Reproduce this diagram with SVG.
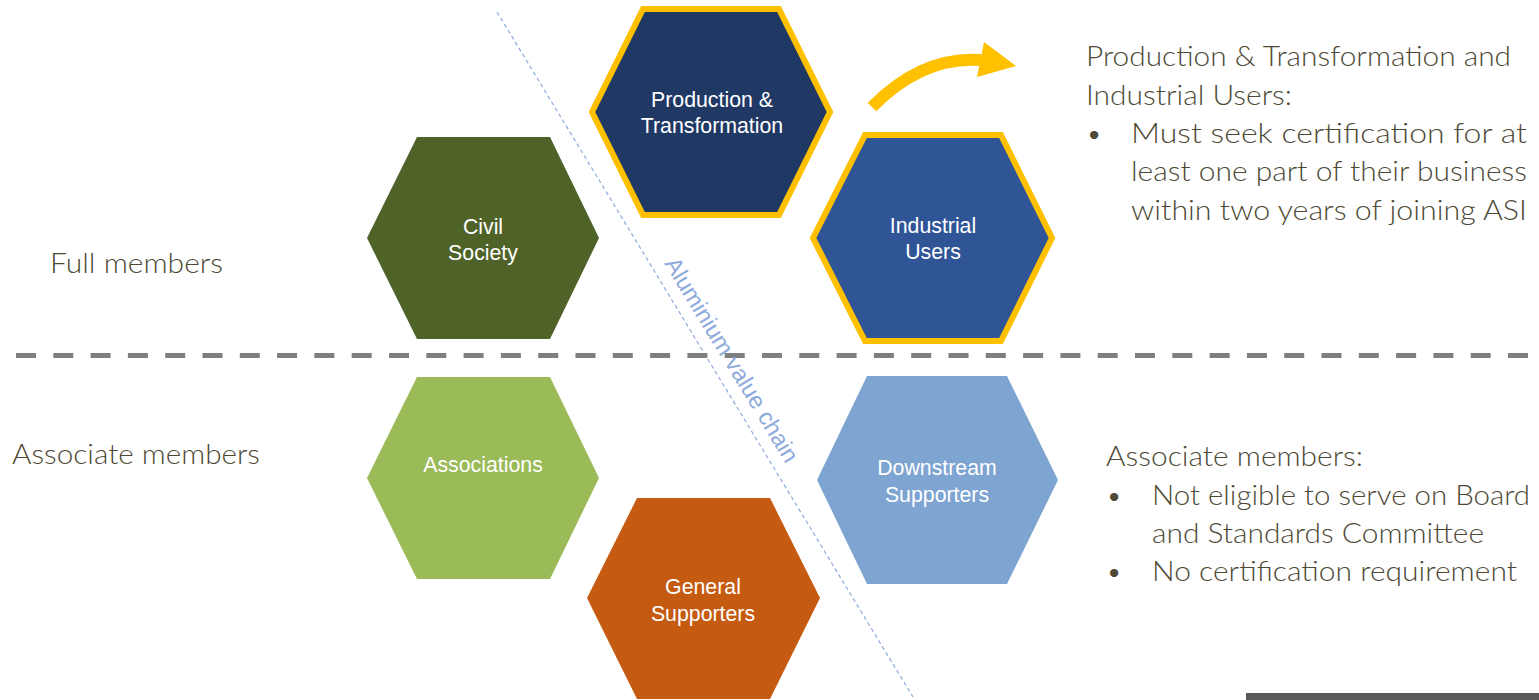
<svg xmlns="http://www.w3.org/2000/svg" width="1539" height="700" viewBox="0 0 1539 700">
<style>
.hl{font-family:"Liberation Sans",Arial,sans-serif;font-size:21.3px;fill:#ffffff;text-anchor:middle}
.bt{font-family:Lato,"Open Sans",sans-serif;font-weight:300;font-size:28px;fill:#4d4935}
.gold{stroke:#ffc000;stroke-width:6;stroke-linejoin:miter}
</style>
<rect width="1539" height="700" fill="#ffffff"/>
<g id="connectors">
<line x1="497" y1="12" x2="913" y2="697" stroke="#8faadc" stroke-width="1.2" stroke-dasharray="4 3"/>
<line x1="16" y1="355.5" x2="1531" y2="355.5" stroke="#7f7f7f" stroke-width="5" stroke-dasharray="20 17.3"/>
<path d="M872,107 Q922,56 981,60" fill="none" stroke="#ffc000" stroke-width="12"/>
<polygon points="984,42 1016,66 977,77" fill="#ffc000"/>
</g>
<g id="chain-label">
<text transform="translate(725,364) rotate(58.7)" text-anchor="middle" style="font-family:'Liberation Sans',Arial,sans-serif;font-size:23.5px;fill:#8faadc">Aluminium value chain</text>
</g>
<g id="production">
<polygon class="gold" points="592,112 643,9 779,9 830,112 779,215 643,215" fill="#203864"/>
<text class="hl" x="712" y="107">Production &amp;</text>
<text class="hl" x="712" y="133">Transformation</text>
</g>
<g id="industrial">
<polygon class="gold" points="813,238 865,135 1001,135 1052,238 1001,341 865,341" fill="#2f5597"/>
<text class="hl" x="933" y="233">Industrial</text>
<text class="hl" x="933" y="259">Users</text>
</g>
<g id="civil">
<polygon points="367,238 417,137 550,137 599,238 550,339 417,339" fill="#4f6228"/>
<text class="hl" x="483" y="234">Civil</text>
<text class="hl" x="483" y="260">Society</text>
</g>
<g id="associations">
<polygon points="367,478 417,377 550,377 599,478 550,579 417,579" fill="#9bbb59"/>
<text class="hl" x="483" y="472">Associations</text>
</g>
<g id="general">
<polygon points="587,598 637,498 770,498 820,598 770,699 637,699" fill="#c55a11"/>
<text class="hl" x="703" y="594">General</text>
<text class="hl" x="703" y="621">Supporters</text>
</g>
<g id="downstream">
<polygon points="817,480 867,376 1007,376 1058,480 1007,584 867,584" fill="#7ea4d1"/>
<text class="hl" x="937" y="475">Downstream</text>
<text class="hl" x="937" y="502">Supporters</text>
</g>
<g id="side-labels">
<text class="bt" x="50" y="273" textLength="173" lengthAdjust="spacingAndGlyphs">Full members</text>
<text class="bt" x="12" y="464" textLength="248" lengthAdjust="spacingAndGlyphs">Associate members</text>
</g>
<g id="full-notes">
<text class="bt" x="1086" y="66" textLength="425" lengthAdjust="spacingAndGlyphs">Production &amp; Transformation and</text>
<text class="bt" x="1086" y="105" textLength="206" lengthAdjust="spacingAndGlyphs">Industrial Users:</text>
<text class="bt" x="1086" y="143">•</text>
<text class="bt" x="1131" y="143" textLength="396" lengthAdjust="spacingAndGlyphs">Must seek certification for at</text>
<text class="bt" x="1131" y="181" textLength="396" lengthAdjust="spacingAndGlyphs">least one part of their business</text>
<text class="bt" x="1131" y="220" textLength="396" lengthAdjust="spacingAndGlyphs">within two years of joining ASI</text>
</g>
<g id="assoc-notes">
<text class="bt" x="1106" y="466" textLength="257" lengthAdjust="spacingAndGlyphs">Associate members:</text>
<text class="bt" x="1106" y="505">•</text>
<text class="bt" x="1152" y="505" textLength="378" lengthAdjust="spacingAndGlyphs">Not eligible to serve on Board</text>
<text class="bt" x="1152" y="543" textLength="332" lengthAdjust="spacingAndGlyphs">and Standards Committee</text>
<text class="bt" x="1106" y="581">•</text>
<text class="bt" x="1152" y="581" textLength="365" lengthAdjust="spacingAndGlyphs">No certification requirement</text>
</g>
<rect x="1246" y="693" width="293" height="7" fill="#595959"/>
</svg>
